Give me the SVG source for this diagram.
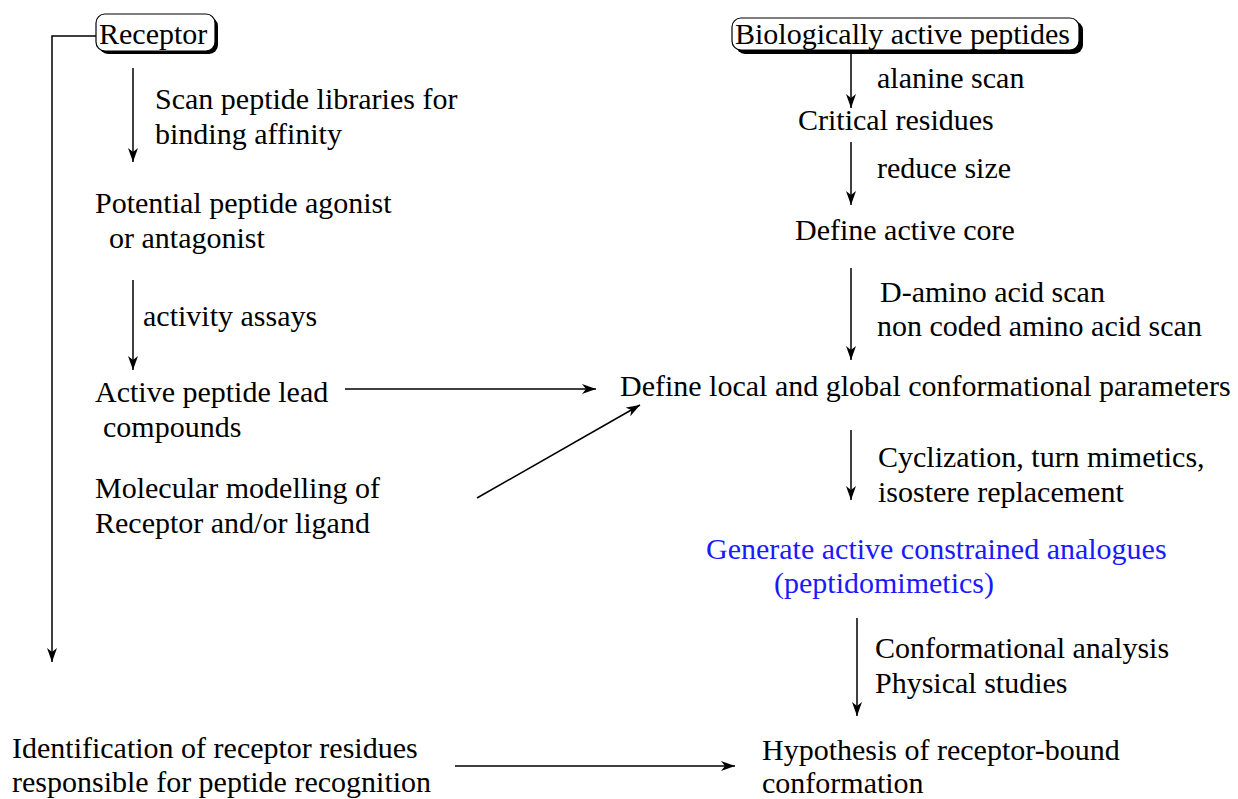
<svg xmlns="http://www.w3.org/2000/svg" width="1238" height="799" viewBox="0 0 1238 799">
<style>
text{font-family:"Liberation Serif","Times New Roman",serif;font-size:30px;fill:#000}
.blue{fill:#1a1aff}
.arr{stroke:#000;stroke-width:1.5;fill:none;marker-end:url(#ah)}
</style>
<defs>
<marker id="ah" markerUnits="userSpaceOnUse" markerWidth="16" markerHeight="10" refX="14" refY="5" orient="auto">
<path d="M0,0 L14,5 L0,10 L4,5 Z" fill="#000"/>
</marker>
</defs>
<rect width="1238" height="799" fill="#fff"/>
<g id="connectors">
<polyline class="arr" points="96,36 52,36 52,662"/>
<line class="arr" x1="133" y1="68" x2="133" y2="162"/>
<line class="arr" x1="133" y1="280" x2="133" y2="370"/>
<line class="arr" x1="345" y1="389" x2="596" y2="389"/>
<line class="arr" x1="477" y1="498" x2="640" y2="405"/>
<line class="arr" x1="455" y1="766" x2="735" y2="766"/>
<line class="arr" x1="851" y1="52" x2="851" y2="108"/>
<line class="arr" x1="851" y1="142" x2="851" y2="205"/>
<line class="arr" x1="851" y1="268" x2="851" y2="360"/>
<line class="arr" x1="851" y1="430" x2="851" y2="500"/>
<line class="arr" x1="857" y1="618" x2="857" y2="716"/>
</g>
<g id="receptor">
<rect x="99" y="17" width="119" height="37" rx="9" fill="#000"/>
<rect x="96" y="14" width="119" height="37" rx="9" fill="#fff" stroke="#000" stroke-width="1.2"/>
<text x="99" y="44">Receptor</text>
</g>
<g id="bio">
<rect x="736" y="21" width="347" height="33" rx="9" fill="#000"/>
<rect x="732" y="18" width="347" height="32" rx="9" fill="#fff" stroke="#000" stroke-width="1.2"/>
<text x="735" y="44">Biologically active peptides</text>
</g>
<g id="lbl-scan">
<text x="155" y="109">Scan peptide libraries for</text>
<text x="155" y="144">binding affinity</text>
</g>
<g id="potential">
<text x="95" y="213">Potential peptide agonist</text>
<text x="109" y="248">or antagonist</text>
</g>
<g id="lbl-activity"><text x="143" y="326">activity assays</text></g>
<g id="active-lead">
<text x="95" y="402">Active peptide lead</text>
<text x="103" y="437">compounds</text>
</g>
<g id="molecular">
<text x="95" y="498">Molecular modelling of</text>
<text x="95" y="533">Receptor and/or ligand</text>
</g>
<g id="identification">
<text x="12" y="758">Identification of receptor residues</text>
<text x="12" y="792">responsible for peptide recognition</text>
</g>
<g id="hypothesis">
<text x="762" y="760">Hypothesis of receptor-bound</text>
<text x="762" y="793">conformation</text>
</g>
<g id="lbl-alanine"><text x="877" y="88">alanine scan</text></g>
<g id="critical"><text x="798" y="130">Critical residues</text></g>
<g id="lbl-reduce"><text x="877" y="178">reduce size</text></g>
<g id="core"><text x="795" y="240">Define active core</text></g>
<g id="lbl-damino">
<text x="880" y="302">D-amino acid scan</text>
<text x="877" y="336">non coded amino acid scan</text>
</g>
<g id="define-local"><text x="620" y="396">Define local and global conformational parameters</text></g>
<g id="lbl-cyclization">
<text x="878" y="467">Cyclization, turn mimetics,</text>
<text x="878" y="502">isostere replacement</text>
</g>
<g id="generate">
<text class="blue" x="706" y="559">Generate active constrained analogues</text>
<text class="blue" x="774" y="593">(peptidomimetics)</text>
</g>
<g id="lbl-conformational">
<text x="875" y="658">Conformational analysis</text>
<text x="875" y="693">Physical studies</text>
</g>
</svg>
